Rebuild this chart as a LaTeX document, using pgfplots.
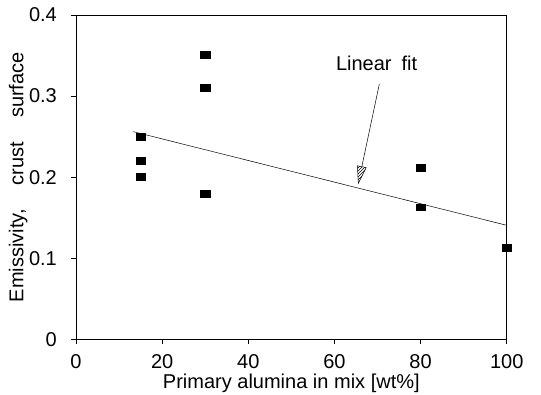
\documentclass[border=0pt]{standalone}
\usepackage{fontspec}
\setmainfont{Liberation Sans}
\usepackage{pgfplots}
\pgfplotsset{compat=1.18}
\usetikzlibrary{patterns}
\begin{document}
\fontsize{20}{24}\selectfont
\begin{tikzpicture}
\begin{axis}[name=ax, scale only axis, width=430.7pt, height=324.3pt,
  xmin=0, xmax=100, ymin=0, ymax=0.4,
  xtick={0,20,40,60,80,100}, ytick={0,0.1,0.2,0.3,0.4},
  yticklabels={0,0.1,0.2,0.3,0.4},
  /pgf/number format/assume math mode=true,
  tick align=outside, xtick pos=left, ytick pos=left,
  major tick length=5pt, tick style={black, line width=0.5pt},
  axis line style={black, line width=0.6pt},
  xticklabel style={yshift=-3.3pt},
  yticklabel style={xshift=-7.3pt},
  xlabel={Primary alumina in mix [wt\%]},
  ylabel={Emissivity,\hspace{1.2em}crust\hspace{1.2em}surface},
  every axis x label/.style={at={([yshift=-43.7pt]axis description cs:0.5,0)}, anchor=center},
  every axis y label/.style={at={([xshift=-57.7pt]axis description cs:0,0.5)}, rotate=90, anchor=center},
  clip=false]
\addplot[only marks, mark=square*, mark size=4.7pt, mark options={yscale=0.72, black}]
  coordinates {(15,0.250) (15,0.220) (15,0.2006) (30,0.3507) (30,0.310) (30,0.180) (80,0.2117) (80,0.163) (100,0.1126)};
\addplot[no marks, black, line width=0.5pt] coordinates {(13.3,0.2561) (100,0.1406)};
\draw[black, line width=0.5pt] (axis cs:70.43,0.3149) -- (axis cs:66.36,0.2129);
\draw[black, line width=0.5pt, pattern=north east lines] (axis cs:65.55,0.1924) -- (axis cs:67.38,0.2118) -- (axis cs:65.34,0.2140) -- cycle;
\node at (axis cs:69.8,0.3404) {Linear\hspace{0.5em}fit};
\end{axis}
\pgfresetboundingbox
\path[use as bounding box] ([shift={(-76pt,-54.7pt)}]ax.south west) rectangle ([shift={(34.3pt,15pt)}]ax.north east);
\end{tikzpicture}
\end{document}
